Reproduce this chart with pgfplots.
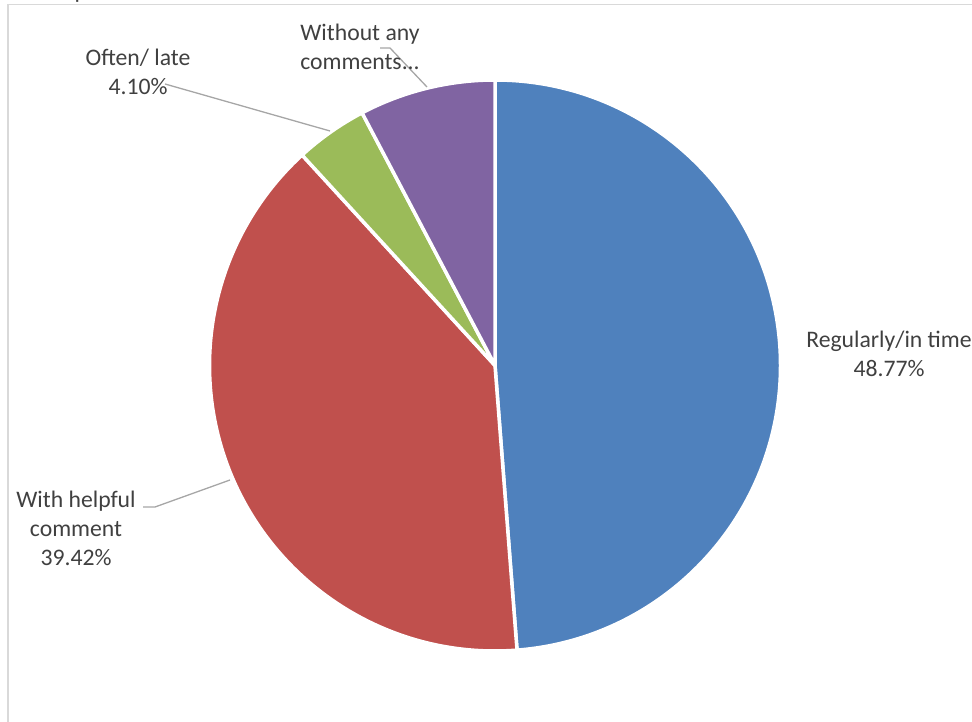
\documentclass[border=0pt]{standalone}
\usepackage{pgfplots}
\usepackage{pgfplotstable}
\pgfplotsset{compat=1.18}
\usepackage{fontspec}
\setmainfont{Carlito}
\definecolor{sblue}{HTML}{4F81BD}
\definecolor{sred}{HTML}{C0504D}
\definecolor{sgreen}{HTML}{9BBB59}
\definecolor{spurple}{HTML}{8064A2}
\definecolor{txt}{HTML}{404040}
\definecolor{lead}{HTML}{A6A6A6}
\definecolor{frame}{HTML}{D9D9D9}
\pgfplotstableread{
label value
Regularly 48.77
Helpful 39.42
Often 4.10
Without 7.71
}\piedata
\begin{document}
\begin{tikzpicture}
\useasboundingbox (0,0) rectangle (972pt,722pt);
\clip (0,0) rectangle (972pt,722pt);
\pgfplotstablegetelem{0}{value}\of\piedata \let\vA\pgfplotsretval
\pgfplotstablegetelem{1}{value}\of\piedata \let\vB\pgfplotsretval
\pgfplotstablegetelem{2}{value}\of\piedata \let\vC\pgfplotsretval
\pgfplotstablegetelem{3}{value}\of\piedata \let\vD\pgfplotsretval
\pgfmathsetmacro\angA{90}
\pgfmathsetmacro\angB{\angA-3.6*\vA}
\pgfmathsetmacro\angC{\angB-3.6*\vB}
\pgfmathsetmacro\angD{\angC-3.6*\vC}
\pgfmathsetmacro\angE{\angD-3.6*\vD}
\begin{axis}[
  at={(0,0)}, anchor=origin,
  width=972pt, height=722pt, scale only axis,
  xmin=0, xmax=972, ymin=0, ymax=722,
  hide axis, clip=false,
]
% frame
\draw[frame, line width=1.5pt] (axis cs:8,0) -- (axis cs:8,717.5) -- (axis cs:980,717.5);
% cut title descender
\node[font=\fontsize{24}{29}\selectfont, text=txt, anchor=base] at (axis cs:81,723) {p};
% slices
\filldraw[fill=sblue, draw=white, line width=3.5pt, line join=round]
  (axis cs:495,356.5) -- ++(\angA:285.5pt) arc[start angle=\angA, end angle=\angB, radius=285.5pt] -- cycle;
\filldraw[fill=sred, draw=white, line width=3.5pt, line join=round]
  (axis cs:495,356.5) -- ++(\angB:285.5pt) arc[start angle=\angB, end angle=\angC, radius=285.5pt] -- cycle;
\filldraw[fill=sgreen, draw=white, line width=3.5pt, line join=round]
  (axis cs:495,356.5) -- ++(\angC:285.5pt) arc[start angle=\angC, end angle=\angD, radius=285.5pt] -- cycle;
\filldraw[fill=spurple, draw=white, line width=3.5pt, line join=round]
  (axis cs:495,356.5) -- ++(\angD:285.5pt) arc[start angle=\angD, end angle=\angE, radius=285.5pt] -- cycle;
% leader lines
\draw[lead, line width=1.3pt] (axis cs:165,638) -- (axis cs:330,591);
\draw[lead, line width=1.3pt] (axis cs:380,674) -- (axis cs:390,674) -- (axis cs:427,635);
\draw[lead, line width=1.3pt] (axis cs:143,215) -- (axis cs:155,215) -- (axis cs:230,242);
% labels
\node[font=\fontsize{23.7}{29}\selectfont, text=txt, align=center] at (axis cs:889,368) {Regularly/in time\\48.77\%};
\node[font=\fontsize{23.7}{29}\selectfont, text=txt, align=center] at (axis cs:76,194) {With helpful\\comment\\39.42\%};
\node[font=\fontsize{23.7}{29}\selectfont, text=txt, align=center] at (axis cs:138,650) {Often/ late\\4.10\%};
\node[font=\fontsize{23.7}{29}\selectfont, text=txt, align=center] at (axis cs:360,675) {Without any\\comments...};
\end{axis}
\end{tikzpicture}
\end{document}
